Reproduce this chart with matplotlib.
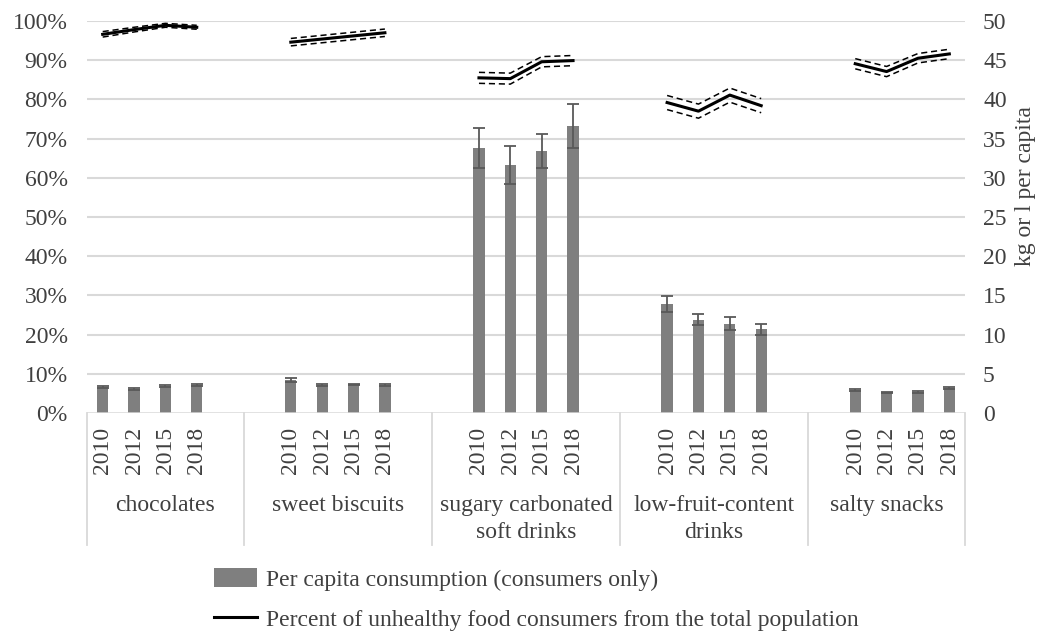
import matplotlib
matplotlib.use("Agg")
import matplotlib.pyplot as plt
from matplotlib.patches import Patch
from matplotlib.lines import Line2D
import numpy as np

plt.rcParams['font.family'] = ['Liberation Serif', 'DejaVu Serif']

categories = ["chocolates", "sweet biscuits", "sugary carbonated\nsoft drinks",
              "low-fruit-content\ndrinks", "salty snacks"]
years = ["2010", "2012", "2015", "2018"]

# per capita consumption (kg or l), right axis
consumption = [
    [3.3, 3.05, 3.45, 3.6],
    [4.2, 3.55, 3.65, 3.6],
    [33.8, 31.6, 33.4, 36.6],
    [13.9, 11.9, 11.4, 10.7],
    [2.9, 2.6, 2.7, 3.2],
]
consumption_err = [
    [0.15, 0.1, 0.15, 0.15],
    [0.3, 0.15, 0.1, 0.1],
    [2.5, 2.45, 2.2, 2.8],
    [1.0, 0.7, 0.8, 0.7],
    [0.15, 0.1, 0.1, 0.15],
]
# percent of unhealthy food consumers, left axis
percent = [
    [96.6, 97.8, 98.9, 98.4],
    [94.6, 95.4, 96.2, 97.0],
    [85.5, 85.3, 89.6, 89.9],
    [79.2, 77.0, 81.1, 78.4],
    [89.1, 87.1, 90.5, 91.6],
]
percent_ci = [
    [0.7, 0.6, 0.5, 0.5],
    [0.95, 0.95, 0.95, 0.95],
    [1.4, 1.4, 1.3, 1.3],
    [1.8, 1.8, 1.8, 1.8],
    [1.3, 1.3, 1.2, 1.2],
]

W, H = 1040, 632
fig = plt.figure(figsize=(W / 100, H / 100), dpi=100)
L, R, T, B = 87, 965, 21, 413
ax = fig.add_axes([L / W, 1 - B / H, (R - L) / W, (B - T) / H])
ax2 = ax.twinx()

text_color = '#404040'
grid_color = '#d9d9d9'
fs = 17

# slot layout: 4 year slots per group, two blank slots between groups
n = len(years)
positions = [list(range(gi * (n + 2), gi * (n + 2) + n)) for gi in range(len(categories))]
bounds_x = [positions[0][0] - 0.5]
for gi in range(len(categories) - 1):
    bounds_x.append((positions[gi][-1] + positions[gi + 1][0]) / 2)
bounds_x.append(positions[-1][-1] + 0.5)
xmin, xmax = bounds_x[0], bounds_x[-1]

for gi in range(len(categories)):
    xs = positions[gi]
    ax2.bar(xs, consumption[gi], width=0.36, color='#7f7f7f', zorder=2,
            yerr=consumption_err[gi], capsize=4,
            error_kw=dict(ecolor='#595959', elinewidth=1.3, capthick=1.3))
    p = np.array(percent[gi])
    c = np.array(percent_ci[gi])
    ax.plot(xs, p, color='black', lw=2.2, zorder=5)
    ax.plot(xs, p + c, color='black', lw=1.1, ls=(0, (4, 2.5)), zorder=5)
    ax.plot(xs, p - c, color='black', lw=1.1, ls=(0, (4, 2.5)), zorder=5)

ax.set_zorder(ax2.get_zorder() + 1)
ax.patch.set_visible(False)

ax.set_xlim(xmin, xmax)
ax2.set_xlim(xmin, xmax)
ax.set_ylim(0, 100)
ax2.set_ylim(0, 50)
ax.set_yticks(np.arange(0, 101, 10))
ax.set_yticklabels([f"{v}%" for v in range(0, 101, 10)])
ax2.set_yticks(np.arange(0, 51, 5))
ax.set_xticks([])
ax2.set_xticks([])

for a in (ax, ax2):
    for s in ('top', 'left', 'right', 'bottom'):
        a.spines[s].set_visible(False)
ax.tick_params(axis='y', length=0, pad=14, labelsize=fs, labelcolor=text_color)
ax2.tick_params(axis='y', length=0, pad=13, labelsize=fs, labelcolor=text_color)

# grid lines
for v in range(10, 101, 10):
    ax2.axhline(v / 2, color=grid_color, lw=1.5, zorder=0)
ax2.axhline(0, color=grid_color, lw=1.8, zorder=3)

fig.text(1026 / W, 1 - 186 / H, "kg or l per capita", rotation=90,
         ha='center', va='center', fontsize=fs, color=text_color)

# category separators below axis
trans = ax.get_xaxis_transform()
sep_bottom = -(545 - 413) / (B - T)
for bx in bounds_x:
    ax.plot([bx, bx], [0, sep_bottom], color=grid_color, lw=1.3,
            transform=trans, clip_on=False)

# year and category labels
for gi in range(len(categories)):
    for x, y in zip(positions[gi], years):
        ax.annotate(y, xy=(x, 0), xycoords=trans, xytext=(0, -10),
                    textcoords='offset points', rotation=90, ha='center',
                    va='top', fontsize=fs, color=text_color)
    cx = (bounds_x[gi] + bounds_x[gi + 1]) / 2
    ax.annotate(categories[gi], xy=(cx, 0), xycoords=trans, xytext=(0, -59),
                textcoords='offset points', ha='center', va='top',
                fontsize=fs, color=text_color, linespacing=1.35)

handles = [Patch(facecolor='#7f7f7f', edgecolor='none'),
           Line2D([0], [0], color='black', lw=2.2)]
labels = ["Per capita consumption (consumers only)",
          "Percent of unhealthy food consumers from the total population"]
leg = fig.legend(handles, labels, loc='upper left',
                 bbox_to_anchor=(205 / W, 1 - 559 / H), frameon=False,
                 fontsize=fs, handlelength=1.8, handleheight=0.8,
                 labelspacing=0.75, handletextpad=0.4, borderaxespad=0)
for t in leg.get_texts():
    t.set_color(text_color)

fig.savefig("out.png", dpi=100)
